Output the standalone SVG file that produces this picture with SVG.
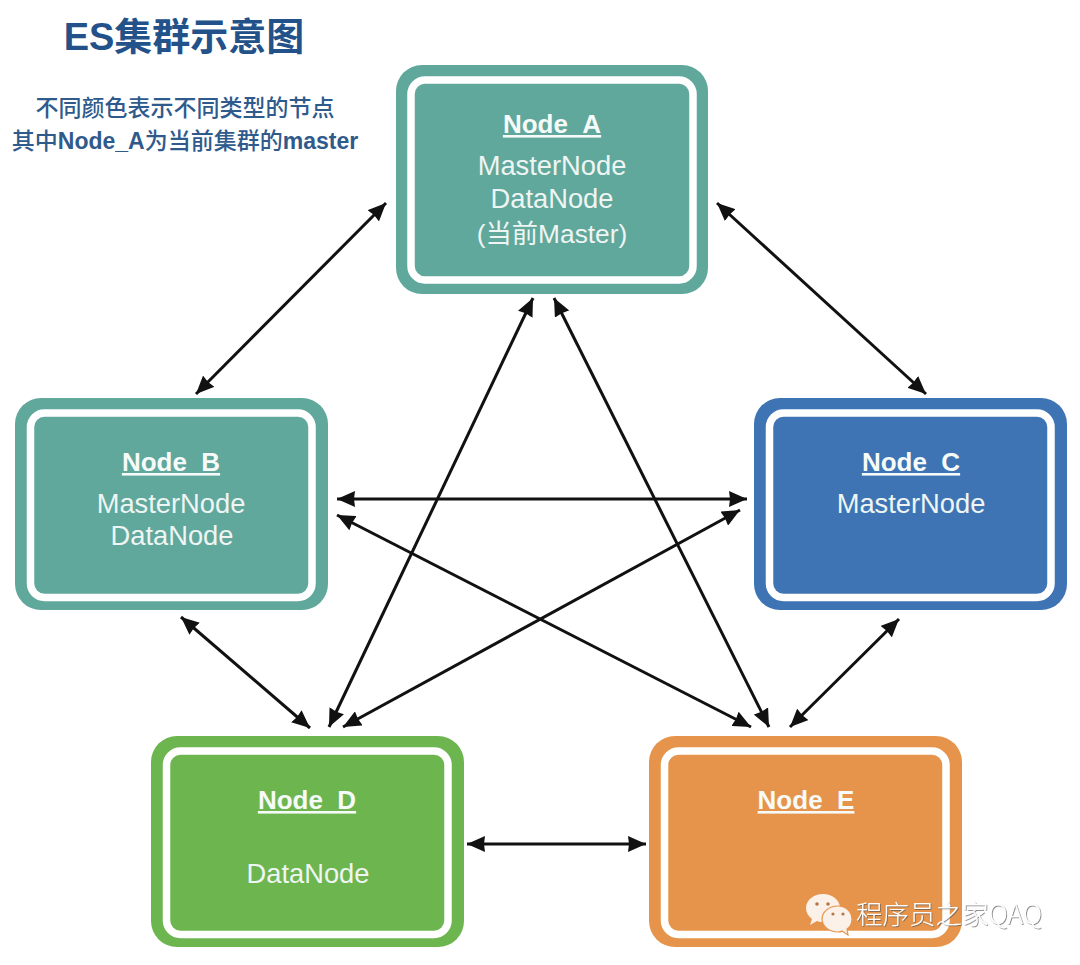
<svg xmlns="http://www.w3.org/2000/svg" width="1080" height="965" viewBox="0 0 1080 965">
<defs>
<marker id="ah" markerUnits="userSpaceOnUse" markerWidth="18" markerHeight="16" refX="18" refY="8" orient="auto-start-reverse" viewBox="0 0 18 16"><path d="M0 0L18 8L0 16L1 8Z" fill="#111"/></marker>
<filter id="sh" x="-5%" y="-20%" width="110%" height="140%"><feDropShadow dx="0.800" dy="0.800" stdDeviation="0.600" flood-color="#555" flood-opacity="0.800"/></filter>
</defs>
<style>
text{font-family:"Liberation Sans","Noto Sans CJK SC",sans-serif}
.o{stroke:none}
.r{fill:none;stroke:#fff;stroke-width:7.500}
.t{fill:#eef5f3;font-size:27.300px;text-anchor:middle}
.h{fill:#f6faf8;font-size:26px;font-weight:700;text-anchor:middle;text-decoration:underline}
.c{stroke:#111;stroke-width:3;fill:none;marker-start:url(#ah);marker-end:url(#ah)}
.n{fill:#2f5a8c;font-size:23px;font-weight:500;text-anchor:middle}
.b{font-weight:700}
</style>
<rect width="1080" height="965" fill="#fff"/>
<g id="title">
<text x="184" y="50" font-size="38" font-weight="700" fill="#23528a" text-anchor="middle">ES集群示意图</text>
<text class="n" x="185" y="116">不同颜色表示不同类型的节点</text>
<text class="n" x="185" y="149">其中<tspan class="b">Node_A</tspan>为当前集群的<tspan class="b">master</tspan></text>
</g>
<g id="connectors">
<line class="c" x1="386" y1="203" x2="196" y2="394"/>
<line class="c" x1="717" y1="203" x2="926" y2="394"/>
<line class="c" x1="533" y1="298" x2="329" y2="727"/>
<line class="c" x1="554" y1="298" x2="769" y2="727"/>
<line class="c" x1="337" y1="499" x2="747" y2="499"/>
<line class="c" x1="337" y1="515" x2="751" y2="727"/>
<line class="c" x1="740" y1="510" x2="343" y2="727"/>
<line class="c" x1="181" y1="617" x2="310" y2="728"/>
<line class="c" x1="899" y1="619" x2="790" y2="727"/>
<line class="c" x1="467" y1="844" x2="646" y2="844"/>
</g>
<g id="node_a">
<rect class="o" x="396" y="65" width="312" height="229" rx="26" fill="#60a89c"/>
<rect class="r" x="411" y="80" width="282" height="200" rx="14"/>
<text class="h" x="552" y="133">Node_A</text>
<text class="t" x="552" y="175">MasterNode</text>
<text class="t" x="552" y="208">DataNode</text>
<text class="t" x="552" y="243" style="font-size:26.300px">(当前Master)</text>
</g>
<g id="node_b">
<rect class="o" x="15" y="398" width="313" height="212" rx="26" fill="#60a89c"/>
<rect class="r" x="30.500" y="413" width="281.500" height="184.500" rx="14"/>
<text class="h" x="171" y="471">Node_B</text>
<text class="t" x="171" y="513">MasterNode</text>
<text class="t" x="172" y="545">DataNode</text>
</g>
<g id="node_c">
<rect class="o" x="754" y="398" width="313" height="212" rx="26" fill="#3e74b4"/>
<rect class="r" x="769.500" y="413" width="281.500" height="184.500" rx="14"/>
<text class="h" x="911" y="471">Node_C</text>
<text class="t" x="911" y="513">MasterNode</text>
</g>
<g id="node_d">
<rect class="o" x="151" y="736" width="313" height="211" rx="26" fill="#6db64f"/>
<rect class="r" x="166.500" y="751" width="281.500" height="183.500" rx="14"/>
<text class="h" x="307" y="809">Node_D</text>
<text class="t" x="308" y="883">DataNode</text>
</g>
<g id="node_e">
<rect class="o" x="649" y="736" width="313" height="211" rx="26" fill="#e6944b"/>
<rect class="r" x="664.500" y="751" width="281.500" height="183.500" rx="14"/>
<text class="h" x="806" y="809">Node_E</text>
</g>
<g id="watermark">
<path d="M823 894c-9 0-17 6-17 14 0 4 2 8 6 11l-2 6 7-4c2 1 4 1 6 1 9 0 17-6 17-14s-8-14-17-14Z" fill="#fbf1e8"/>
<path d="M838 906c-9 0-16 6-16 13s7 13 16 13c1 0 3 0 4-1l6 4-1-6c3-2 5-6 5-10 0-7-6-13-14-13Z" fill="#fbf1e8" stroke="#e6944b" stroke-width="1.200"/>
<circle cx="817" cy="904" r="1.800" fill="#b5764a"/><circle cx="828" cy="904" r="1.800" fill="#b5764a"/>
<circle cx="833" cy="914" r="1.600" fill="#b5764a"/><circle cx="843" cy="914" r="1.600" fill="#b5764a"/>
<text x="856" y="924" font-size="26.500" fill="#fff" filter="url(#sh)" style="font-family:'Noto Sans CJK SC','Liberation Sans',sans-serif;font-weight:300">程序员之家QAQ</text>
</g>
</svg>
